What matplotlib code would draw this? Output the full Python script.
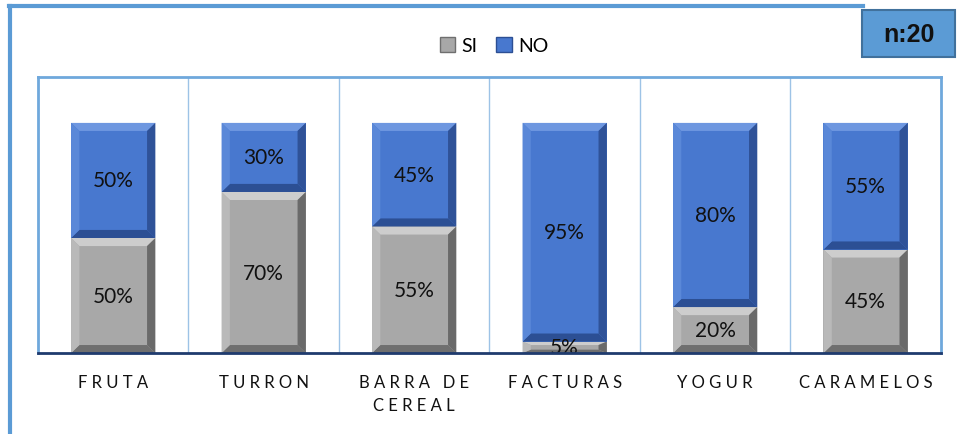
import matplotlib
matplotlib.use("Agg")
import matplotlib.pyplot as plt
from matplotlib.patches import Polygon, Patch, Rectangle

plt.rcParams["font.family"] = ["Lato", "DejaVu Sans"]

categorias = ["FRUTA", "TURRON", "BARRA DE\nCEREAL", "FACTURAS", "YOGUR", "CARAMELOS"]
si = [50, 70, 55, 5, 20, 45]
no = [50, 30, 45, 95, 80, 55]
n_total = 20

# colores: cara, arriba, abajo, izquierda, derecha
azul = ["#4878cf", "#6e97e0", "#2c4f94", "#5a88d8", "#2f5298"]
gris = ["#a8a8a8", "#cdcdcd", "#6f6f6f", "#b9b9b9", "#6a6a6a"]


def espaciar(txt):
    return "\n".join(" ".join(linea) for linea in txt.split("\n"))


def barra_bisel(ax, x, abajo, alto, ancho, cols):
    x0, x1 = x - ancho / 2, x + ancho / 2
    y0, y1 = abajo, abajo + alto
    bx = 0.055
    by = min(3.5, alto * 0.3)
    xi0, xi1, yi0, yi1 = x0 + bx, x1 - bx, y0 + by, y1 - by
    ax.add_patch(Rectangle((x0, y0), ancho, alto, facecolor=cols[0], lw=0))
    caras = [
        ([(x0, y1), (x1, y1), (xi1, yi1), (xi0, yi1)], cols[1]),
        ([(x0, y0), (x1, y0), (xi1, yi0), (xi0, yi0)], cols[2]),
        ([(x0, y0), (xi0, yi0), (xi0, yi1), (x0, y1)], cols[3]),
        ([(x1, y0), (xi1, yi0), (xi1, yi1), (x1, y1)], cols[4]),
    ]
    for pts, c in caras:
        ax.add_patch(Polygon(pts, closed=True, facecolor=c, lw=0))


fig = plt.figure(figsize=(9.59, 4.35), dpi=100)
ax = fig.add_axes([0.0396, 0.186, 0.9415, 0.635])

ancho = 0.56
for i in range(len(categorias)):
    barra_bisel(ax, i, 0, si[i], ancho, gris)
    barra_bisel(ax, i, si[i], no[i], ancho, azul)
    ax.text(i, si[i] / 2, f"{si[i]}%", ha="center", va="center", fontsize=15, color="#111111")
    ax.text(i, si[i] + no[i] / 2, f"{no[i]}%", ha="center", va="center", fontsize=15, color="#111111")

ax.set_xlim(-0.5, len(categorias) - 0.5)
ax.set_ylim(0, 120)
for k in range(1, len(categorias)):
    ax.axvline(k - 0.5, color="#9dc3e6", lw=1, zorder=0)
ax.axhline(0, color="#1f3b6e", lw=2, zorder=5, clip_on=False)

ax.set_yticks([])
ax.set_xticks(range(len(categorias)))
ax.set_xticklabels([espaciar(c) for c in categorias], fontsize=12, color="#111111",
                   linespacing=1.55, va="top")
ax.tick_params(axis="x", length=0, pad=15)
for s in ax.spines.values():
    s.set_color("#6fa8dc")
    s.set_linewidth(2)
ax.spines["bottom"].set_visible(False)

handles = [Patch(facecolor=gris[0], edgecolor=gris[2]), Patch(facecolor=azul[0], edgecolor=azul[2])]
fig.legend(handles, ["SI", "NO"], loc="center", bbox_to_anchor=(0.515, 0.893), ncol=2,
           frameon=False, fontsize=14, handlelength=0.8, handleheight=0.8,
           handletextpad=0.3, columnspacing=1.0)

# borde exterior
fig.add_artist(plt.Line2D([0.0105, 0.0105], [0, 0.984], color="#5b9bd5", lw=3))
fig.add_artist(plt.Line2D([0.0095, 0.9], [0.984, 0.984], color="#5b9bd5", lw=3))

# cuadro n
fig.add_artist(Rectangle((0.899, 0.867), 0.097, 0.107, transform=fig.transFigure,
                         facecolor="#5b9bd5", edgecolor="#41719c", lw=1.5))
fig.text(0.9475, 0.92, f"n:{n_total}", ha="center", va="center", fontsize=18, fontweight="bold",
         color="#111111", family=["Liberation Sans", "DejaVu Sans"])

fig.savefig("out.png", dpi=100)
